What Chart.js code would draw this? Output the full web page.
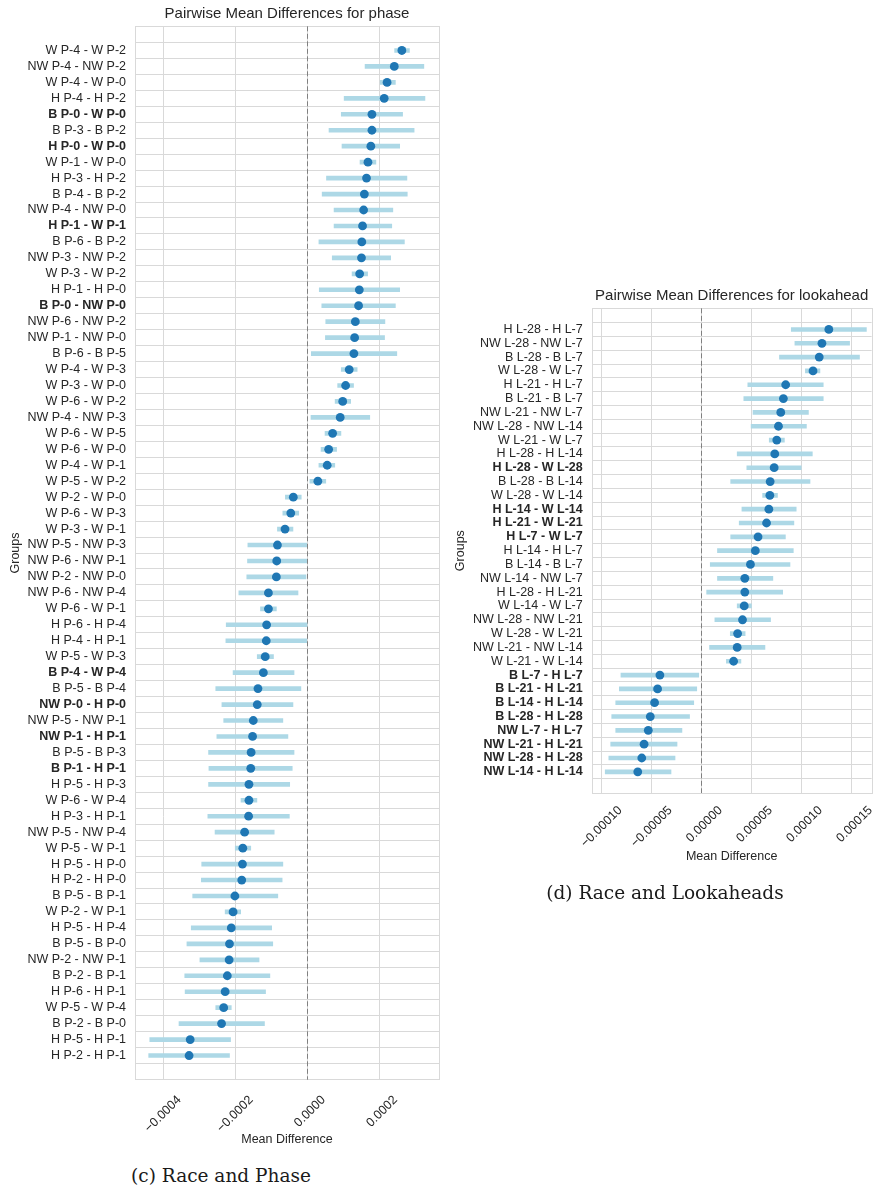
<!DOCTYPE html>
<html>
<head>
<meta charset="utf-8">
<script src="https://cdn.jsdelivr.net/npm/chart.js@4.4.1/dist/chart.umd.min.js"></script>
<style>
  body { margin: 0; background: #fff; width: 876px; height: 1186px; position: relative; overflow: hidden; }
  canvas { position: absolute; }
  #phaseChart { left: 0; top: 0; }
  #lookChart { left: 445px; top: 280px; }
  .caption {
    position: absolute;
    font-family: "DejaVu Serif", serif;
    font-size: 18.5px;
    color: #1a1a1a;
    white-space: nowrap;
    transform: translate(-50%, -50%);
  }
</style>
</head>
<body>
<canvas id="phaseChart" width="450" height="1150"></canvas>
<canvas id="lookChart" width="431" height="590"></canvas>
<div class="caption" style="left:221px; top:1175px">(c) Race and Phase</div>
<div class="caption" style="left:665px; top:892px">(d) Race and Lookaheads</div>
<script>
// ---------- Data: phase ----------
const phaseLabels = [
  "W P-4 - W P-2", "NW P-4 - NW P-2", "W P-4 - W P-0", "H P-4 - H P-2",
  "B P-0 - W P-0", "B P-3 - B P-2", "H P-0 - W P-0", "W P-1 - W P-0",
  "H P-3 - H P-2", "B P-4 - B P-2", "NW P-4 - NW P-0", "H P-1 - W P-1",
  "B P-6 - B P-2", "NW P-3 - NW P-2", "W P-3 - W P-2", "H P-1 - H P-0",
  "B P-0 - NW P-0", "NW P-6 - NW P-2", "NW P-1 - NW P-0", "B P-6 - B P-5",
  "W P-4 - W P-3", "W P-3 - W P-0", "W P-6 - W P-2", "NW P-4 - NW P-3",
  "W P-6 - W P-5", "W P-6 - W P-0", "W P-4 - W P-1", "W P-5 - W P-2",
  "W P-2 - W P-0", "W P-6 - W P-3", "W P-3 - W P-1", "NW P-5 - NW P-3",
  "NW P-6 - NW P-1", "NW P-2 - NW P-0", "NW P-6 - NW P-4", "W P-6 - W P-1",
  "H P-6 - H P-4", "H P-4 - H P-1", "W P-5 - W P-3", "B P-4 - W P-4",
  "B P-5 - B P-4", "NW P-0 - H P-0", "NW P-5 - NW P-1", "NW P-1 - H P-1",
  "B P-5 - B P-3", "B P-1 - H P-1", "H P-5 - H P-3", "W P-6 - W P-4",
  "H P-3 - H P-1", "NW P-5 - NW P-4", "W P-5 - W P-1", "H P-5 - H P-0",
  "H P-2 - H P-0", "B P-5 - B P-1", "W P-2 - W P-1", "H P-5 - H P-4",
  "B P-5 - B P-0", "NW P-2 - NW P-1", "B P-2 - B P-1", "H P-6 - H P-1",
  "W P-5 - W P-4", "B P-2 - B P-0", "H P-5 - H P-1", "H P-2 - H P-1",
];
const phaseBold = [
  "B P-0 - W P-0", "H P-0 - W P-0", "H P-1 - W P-1", "B P-0 - NW P-0",
  "B P-4 - W P-4", "NW P-0 - H P-0", "NW P-1 - H P-1", "B P-1 - H P-1",
];
const phaseMean = [
  2.62e-4, 2.41e-4, 2.21e-4, 2.13e-4, 1.79e-4, 1.79e-4, 1.76e-4, 1.68e-4,
  1.64e-4, 1.58e-4, 1.56e-4, 1.53e-4, 1.51e-4, 1.50e-4, 1.45e-4, 1.44e-4,
  1.42e-4, 1.33e-4, 1.31e-4, 1.29e-4, 1.16e-4, 1.06e-4, 0.98e-4, 0.91e-4,
  0.70e-4, 0.59e-4, 0.55e-4, 0.29e-4, -0.39e-4, -0.46e-4, -0.62e-4, -0.83e-4,
  -0.85e-4, -0.86e-4, -1.08e-4, -1.08e-4, -1.13e-4, -1.14e-4, -1.17e-4, -1.22e-4,
  -1.37e-4, -1.39e-4, -1.50e-4, -1.52e-4, -1.56e-4, -1.57e-4, -1.62e-4, -1.62e-4,
  -1.63e-4, -1.74e-4, -1.79e-4, -1.80e-4, -1.82e-4, -2.01e-4, -2.06e-4, -2.11e-4,
  -2.16e-4, -2.17e-4, -2.22e-4, -2.28e-4, -2.32e-4, -2.38e-4, -3.25e-4, -3.28e-4,
];
const phaseLow = [
  2.42e-4, 1.60e-4, 2.02e-4, 1.02e-4, 0.94e-4, 0.60e-4, 0.96e-4, 1.46e-4,
  0.53e-4, 0.41e-4, 0.74e-4, 0.74e-4, 0.32e-4, 0.69e-4, 1.24e-4, 0.33e-4,
  0.40e-4, 0.51e-4, 0.50e-4, 0.11e-4, 0.94e-4, 0.84e-4, 0.77e-4, 0.10e-4,
  0.49e-4, 0.38e-4, 0.32e-4, 0.07e-4, -0.61e-4, -0.68e-4, -0.83e-4, -1.65e-4,
  -1.66e-4, -1.68e-4, -1.90e-4, -1.30e-4, -2.25e-4, -2.26e-4, -1.39e-4, -2.06e-4,
  -2.54e-4, -2.37e-4, -2.32e-4, -2.51e-4, -2.74e-4, -2.73e-4, -2.74e-4, -1.84e-4,
  -2.76e-4, -2.56e-4, -2.00e-4, -2.93e-4, -2.94e-4, -3.18e-4, -2.28e-4, -3.22e-4,
  -3.34e-4, -2.98e-4, -3.40e-4, -3.39e-4, -2.54e-4, -3.56e-4, -4.37e-4, -4.40e-4,
];
const phaseHigh = [
  2.83e-4, 3.23e-4, 2.44e-4, 3.26e-4, 2.64e-4, 2.96e-4, 2.56e-4, 1.90e-4,
  2.76e-4, 2.77e-4, 2.37e-4, 2.34e-4, 2.69e-4, 2.31e-4, 1.67e-4, 2.56e-4,
  2.44e-4, 2.15e-4, 2.14e-4, 2.48e-4, 1.38e-4, 1.28e-4, 1.20e-4, 1.73e-4,
  0.93e-4, 0.81e-4, 0.76e-4, 0.51e-4, -0.17e-4, -0.24e-4, -0.40e-4, -0.02e-4,
  -0.02e-4, -0.04e-4, -0.26e-4, -0.86e-4, -0.01e-4, -0.02e-4, -0.94e-4, -0.37e-4,
  -0.18e-4, -0.40e-4, -0.68e-4, -0.54e-4, -0.37e-4, -0.42e-4, -0.49e-4, -1.40e-4,
  -0.50e-4, -0.92e-4, -1.57e-4, -0.68e-4, -0.70e-4, -0.82e-4, -1.85e-4, -0.99e-4,
  -0.96e-4, -1.34e-4, -1.04e-4, -1.16e-4, -2.11e-4, -1.19e-4, -2.13e-4, -2.16e-4,
];
const phaseTicks = [-0.0004, -0.0002, 0, 0.0002];
const phaseRange = [-4.78e-4, 3.65e-4];

// ---------- Data: lookahead ----------
const lookLabels = [
  "H L-28 - H L-7", "NW L-28 - NW L-7", "B L-28 - B L-7", "W L-28 - W L-7",
  "H L-21 - H L-7", "B L-21 - B L-7", "NW L-21 - NW L-7", "NW L-28 - NW L-14",
  "W L-21 - W L-7", "H L-28 - H L-14", "H L-28 - W L-28", "B L-28 - B L-14",
  "W L-28 - W L-14", "H L-14 - W L-14", "H L-21 - W L-21", "H L-7 - W L-7",
  "H L-14 - H L-7", "B L-14 - B L-7", "NW L-14 - NW L-7", "H L-28 - H L-21",
  "W L-14 - W L-7", "NW L-28 - NW L-21", "W L-28 - W L-21", "NW L-21 - NW L-14",
  "W L-21 - W L-14", "B L-7 - H L-7", "B L-21 - H L-21", "B L-14 - H L-14",
  "B L-28 - H L-28", "NW L-7 - H L-7", "NW L-21 - H L-21", "NW L-28 - H L-28",
  "NW L-14 - H L-14",
];
const lookBold = [
  "H L-28 - W L-28", "H L-14 - W L-14", "H L-21 - W L-21", "H L-7 - W L-7",
  "B L-7 - H L-7", "B L-21 - H L-21", "B L-14 - H L-14", "B L-28 - H L-28",
  "NW L-7 - H L-7", "NW L-21 - H L-21", "NW L-28 - H L-28", "NW L-14 - H L-14",
];
const lookMean = [
  1.273e-4, 1.204e-4, 1.177e-4, 1.115e-4, 0.842e-4, 0.819e-4, 0.793e-4, 0.770e-4,
  0.753e-4, 0.733e-4, 0.727e-4, 0.687e-4, 0.684e-4, 0.674e-4, 0.651e-4, 0.566e-4,
  0.539e-4, 0.490e-4, 0.434e-4, 0.434e-4, 0.428e-4, 0.411e-4, 0.362e-4, 0.358e-4,
  0.322e-4, -0.414e-4, -0.437e-4, -0.467e-4, -0.510e-4, -0.530e-4, -0.572e-4, -0.595e-4,
  -0.635e-4,
];
const lookLow = [
  0.898e-4, 0.934e-4, 0.780e-4, 1.039e-4, 0.464e-4, 0.424e-4, 0.516e-4, 0.497e-4,
  0.678e-4, 0.358e-4, 0.454e-4, 0.293e-4, 0.612e-4, 0.405e-4, 0.378e-4, 0.293e-4,
  0.161e-4, 0.089e-4, 0.161e-4, 0.053e-4, 0.358e-4, 0.135e-4, 0.289e-4, 0.082e-4,
  0.250e-4, -0.803e-4, -0.819e-4, -0.855e-4, -0.895e-4, -0.855e-4, -0.905e-4, -0.924e-4,
  -0.960e-4,
];
const lookHigh = [
  1.648e-4, 1.480e-4, 1.579e-4, 1.184e-4, 1.217e-4, 1.217e-4, 1.069e-4, 1.049e-4,
  0.829e-4, 1.108e-4, 0.997e-4, 1.085e-4, 0.760e-4, 0.947e-4, 0.924e-4, 0.839e-4,
  0.918e-4, 0.885e-4, 0.714e-4, 0.812e-4, 0.500e-4, 0.691e-4, 0.437e-4, 0.635e-4,
  0.395e-4, -0.026e-4, -0.046e-4, -0.076e-4, -0.118e-4, -0.194e-4, -0.243e-4, -0.263e-4,
  -0.303e-4,
];
const lookTicks = [-0.0001, -0.00005, 0, 0.00005, 0.0001, 0.00015];
const lookRange = [-1.095e-4, 1.70e-4];

// ---------- Style ----------
const TEXT = "#262626";
const GRID = "#d9d9d9";
const FONT = "'Liberation Sans', Arial, sans-serif";

// frame round the plot + dashed zero line
const framePlugin = {
  id: "frame",
  beforeDatasetsDraw(chart) {
    const { ctx, chartArea: a } = chart;
    const x0 = chart.scales.x.getPixelForValue(0);
    ctx.save();
    ctx.strokeStyle = GRID;
    ctx.lineWidth = 1;
    ctx.strokeRect(Math.round(a.left) + 0.5, Math.round(a.top) + 0.5, Math.round(a.width), Math.round(a.height));
    ctx.strokeStyle = "#808080";
    ctx.setLineDash([5, 2.5]);
    ctx.beginPath();
    ctx.moveTo(Math.round(x0) + 0.5, a.top);
    ctx.lineTo(Math.round(x0) + 0.5, a.bottom);
    ctx.stroke();
    ctx.restore();
  },
};

function fmtTick(v, digits) {
  const s = Math.abs(v).toFixed(digits);
  return v < -1e-12 ? "\u2212" + s : s;
}

// ---------- Chart builder ----------
function makeChart(id, o) {
  const n = o.labels.length;
  return new Chart(document.getElementById(id), {
    type: "bar",
    data: {
      datasets: [
        {
          type: "line",
          order: 0,
          data: o.mean.map((m, i) => ({ x: m, y: i })),
          showLine: false,
          pointRadius: 4.4,
          pointHoverRadius: 4.4,
          pointBackgroundColor: "#1f77b4",
          pointBorderWidth: 0,
        },
        {
          type: "bar",
          order: 1,
          data: o.low.map((lo, i) => ({ x: [lo, o.high[i]], y: i })),
          backgroundColor: "#add8e6",
          barThickness: 4,
          borderSkipped: false,
        },
      ],
    },
    options: {
      indexAxis: "y",
      responsive: false,
      animation: false,
      devicePixelRatio: 1,
      layout: { padding: o.pad },
      plugins: {
        legend: { display: false },
        tooltip: { enabled: false },
        title: {
          display: true,
          text: o.title,
          color: TEXT,
          font: { family: FONT, size: 15, weight: "normal" },
          padding: { top: o.titleTop, bottom: 3.3 },
          fullSize: false,
        },
      },
      scales: {
        x: {
          type: "linear",
          position: "bottom",
          min: o.range[0],
          max: o.range[1],
          afterBuildTicks: (a) => { a.ticks = o.ticks.map((v) => ({ value: v })); },
          afterFit: (a) => { a.height = o.xHeight; },
          grid: { color: GRID, drawTicks: false },
          border: { display: false },
          ticks: {
            color: TEXT,
            font: { family: FONT, size: 12.5 },
            minRotation: 45,
            maxRotation: 45,
            autoSkip: false,
            padding: o.xPad,
            labelOffset: o.labelOffset,
            callback: (v) => fmtTick(v, o.digits),
          },
          title: {
            display: true,
            text: "Mean Difference",
            color: TEXT,
            font: { family: FONT, size: 12.5 },
            padding: { top: 0, bottom: o.xTitlePad },
          },
        },
        y: {
          type: "linear",
          reverse: true,
          min: -1,
          max: n,
          afterBuildTicks: (a) => { a.ticks = o.labels.map((_, i) => ({ value: i })); },
          afterFit: (a) => { a.width = o.yWidth; },
          grid: { color: GRID, drawTicks: false },
          border: { display: false },
          ticks: {
            color: TEXT,
            autoSkip: false,
            padding: 9,
            callback: (v) => o.labels[v],
            font: (c) => ({
              family: FONT,
              size: 12.5,
              weight: o.bold.includes(o.labels[c.index]) ? "bold" : "normal",
            }),
          },
          title: {
            display: true,
            text: "Groups",
            color: TEXT,
            font: { family: FONT, size: 12.5 },
            padding: { top: 8, bottom: 0 },
          },
        },
      },
    },
    plugins: [framePlugin],
  });
}

// ---------- Draw ----------
makeChart("phaseChart", {
  title: "Pairwise Mean Differences for phase",
  labels: phaseLabels, bold: phaseBold,
  mean: phaseMean, low: phaseLow, high: phaseHigh,
  ticks: phaseTicks, range: phaseRange, digits: 4,
  pad: { left: 0, right: 11, top: 0, bottom: 0 },
  titleTop: 5, yWidth: 135, xHeight: 70.3, xPad: 13, xTitlePad: 3, labelOffset: 16,
});

makeChart("lookChart", {
  title: "Pairwise Mean Differences for lookahead",
  labels: lookLabels, bold: lookBold,
  mean: lookMean, low: lookLow, high: lookHigh,
  ticks: lookTicks, range: lookRange, digits: 5,
  pad: { left: 0, right: 1, top: 0, bottom: 0 },
  titleTop: 7, yWidth: 146.7, xHeight: 77, xPad: 10, xTitlePad: 5.5, labelOffset: 19,
});
</script>
</body>
</html>
